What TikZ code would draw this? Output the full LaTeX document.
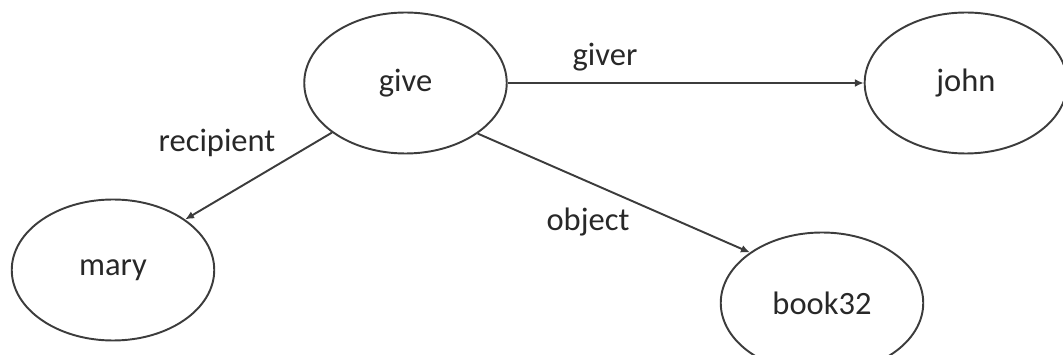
\documentclass[tikz,border=0pt]{standalone}
\usepackage{fontspec}
\setmainfont{Carlito}
\usepackage{tikz}
\usetikzlibrary{shapes.geometric, arrows.meta, positioning}
\definecolor{linegray}{RGB}{60,60,60}
\definecolor{textgray}{RGB}{40,40,40}
\tikzset{
  concept/.style={ellipse, draw=linegray, line width=1.1pt, minimum width=4.05cm,
    minimum height=2.82cm, inner sep=0pt, text=textgray,
    font=\fontsize{18.5}{22}\selectfont},
  rolelabel/.style={text=textgray, inner sep=0pt, font=\fontsize{18.5}{22}\selectfont},
  relarrow/.style={-{Latex[length=5pt, width=4.5pt]}, line width=1.1pt, color=linegray},
}
\begin{document}
\begin{tikzpicture}
  \useasboundingbox (0,0) rectangle (21.26,7.10);

  %% Concepts
  \node[concept] (give) at (8.11,5.44) {give};
  \node[concept, right=7.12cm of give] (john) {john};
  \node[concept] (mary) at (2.26,1.70) {mary};
  \node[concept] (book) at (16.44,1.04) {book32};

  %% Relations
  \draw[relarrow] (give) -- (john);
  \draw[relarrow] (give.214) -- (mary.35);
  \draw[relarrow] (give.-35) -- (book.145);

  %% Role labels
  \node[rolelabel] (lgiver) at (12.10,5.96) {giver};
  \node[rolelabel] (lrecip) at (4.34,4.24) {recipient};
  \node[rolelabel] (lobject) at (11.76,2.66) {object};
\end{tikzpicture}
\end{document}
